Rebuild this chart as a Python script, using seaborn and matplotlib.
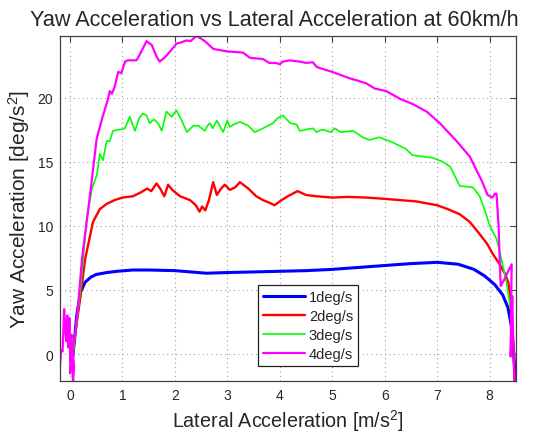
import numpy as np
import pandas as pd
import matplotlib
matplotlib.use("Agg")
import matplotlib.pyplot as plt
import seaborn as sns

# ---------------- data ----------------
labels = ["1deg/s", "2deg/s", "3deg/s", "4deg/s"]
colors = ["#0000ff", "#ff0000", "#00ff00", "#ff00ff"]

x1 = [0.03, 0.08, 0.13, 0.2, 0.29, 0.4, 0.5, 0.7, 0.9, 1.2, 1.5, 2.0, 2.3, 2.6,
      3.0, 3.5, 4.0, 4.5, 5.0, 5.5, 6.0, 6.5, 7.0, 7.4, 7.7, 7.9, 8.1, 8.25,
      8.35, 8.42, 8.46, 8.49]
y1 = [-1.0, 0.8, 3.0, 4.8, 5.6, 6.0, 6.2, 6.35, 6.45, 6.55, 6.55, 6.5, 6.4, 6.3,
      6.35, 6.4, 6.45, 6.5, 6.6, 6.75, 6.9, 7.05, 7.15, 7.0, 6.6, 6.1, 5.4, 4.6,
      3.6, 2.0, 0.0, -2.1]

x2 = [0.03, 0.1, 0.2, 0.29, 0.44, 0.57, 0.7, 0.85, 1.0, 1.2, 1.35, 1.47, 1.55,
      1.65, 1.72, 1.8, 1.87, 1.95, 2.1, 2.29, 2.4, 2.47, 2.52, 2.58, 2.65, 2.73,
      2.8, 2.88, 2.95, 3.05, 3.15, 3.24, 3.4, 3.55, 3.68, 3.8, 3.9, 4.0, 4.15,
      4.34, 4.5, 4.7, 5.0, 5.3, 5.65, 6.0, 6.29, 6.6, 7.0, 7.2, 7.43, 7.62, 7.8,
      7.95, 8.06, 8.19, 8.3, 8.36, 8.42, 8.45, 8.48]
y2 = [-1.0, 1.5, 4.5, 7.4, 10.3, 11.3, 11.7, 12.0, 12.2, 12.3, 12.6, 12.9, 12.7,
      13.3, 12.9, 12.3, 13.2, 12.8, 12.3, 12.0, 11.6, 11.1, 11.5, 11.2, 12.0, 13.4,
      12.4, 12.9, 13.2, 12.8, 13.0, 13.4, 12.9, 12.3, 12.0, 11.8, 11.6, 11.9, 12.3,
      12.7, 12.4, 12.3, 12.2, 12.25, 12.2, 12.1, 12.0, 11.9, 11.6, 11.3, 10.9, 10.3,
      9.4, 8.6, 7.8, 7.0, 6.2, 5.5, 3.0, 0.5, -2.1]

x3 = [0.03, 0.1, 0.2, 0.32, 0.42, 0.51, 0.57, 0.63, 0.7, 0.76, 0.82, 0.95, 1.05,
      1.14, 1.24, 1.32, 1.39, 1.46, 1.52, 1.6, 1.68, 1.75, 1.84, 1.94, 2.03, 2.12,
      2.23, 2.35, 2.45, 2.57, 2.62, 2.67, 2.72, 2.8, 2.92, 3.0, 3.05, 3.12, 3.24,
      3.4, 3.52, 3.68, 3.87, 3.96, 4.06, 4.2, 4.32, 4.38, 4.5, 4.63, 4.7, 4.8, 4.9,
      4.97, 5.05, 5.16, 5.4, 5.58, 5.71, 5.9, 6.15, 6.4, 6.53, 6.72, 6.91, 7.1,
      7.25, 7.43, 7.68, 7.81, 7.9, 8.0, 8.13, 8.19, 8.32, 8.42, 8.45]
y3 = [-1.0, 1.5, 5.0, 10.5, 12.9, 13.9, 15.6, 15.1, 16.6, 16.6, 17.4, 17.5, 17.6,
      18.5, 17.4, 18.4, 18.75, 18.6, 18.0, 18.3, 18.0, 17.4, 18.9, 18.5, 19.0, 18.3,
      17.3, 17.8, 17.8, 17.4, 17.8, 18.0, 17.6, 18.2, 17.3, 18.2, 17.7, 17.9, 18.1,
      17.8, 17.3, 17.6, 18.0, 18.4, 18.6, 18.0, 17.9, 17.4, 17.5, 17.6, 17.3, 17.5,
      17.4, 17.3, 17.6, 17.3, 17.4, 16.9, 16.7, 16.9, 16.5, 16.0, 15.5, 15.4, 15.3,
      15.0, 14.6, 13.1, 13.0, 12.3, 11.3, 10.0, 9.0, 8.0, 5.6, 3.0, 1.0]

x4 = [-0.2, -0.17, -0.14, -0.11, -0.09, -0.07, -0.05, -0.03, -0.01, 0.01, 0.03,
      0.0, 0.04, 0.06, 0.08, 0.05, 0.1, 0.15, 0.23, 0.38, 0.51, 0.63, 0.72, 0.76,
      0.8, 0.85, 0.92, 0.98, 1.05, 1.1, 1.27, 1.35, 1.46, 1.56, 1.65, 1.71, 1.8,
      1.87, 1.95, 2.03, 2.12, 2.22, 2.3, 2.41, 2.5, 2.6, 2.73, 2.85, 2.99, 3.15, 3.3,
      3.43, 3.55, 3.68, 3.8, 3.92, 4.0, 4.06, 4.19, 4.38, 4.5, 4.63, 4.7, 4.76, 5.0,
      5.33, 5.5, 5.65, 5.81, 6.03, 6.29, 6.53, 6.8, 7.05, 7.37, 7.62, 7.85, 7.96,
      8.05, 8.1, 8.13, 8.17, 8.19, 8.21, 8.29, 8.37, 8.42, 8.41, 8.4, 8.43, 8.45,
      8.47]
y4 = [-1.6, 0.3, 0.2, 3.5, 2.0, 1.0, 3.0, 0.5, 2.8, -0.5, 1.5, -1.5, -0.5, -2.1,
      -1.0, 0.5, 1.5, 3.5, 7.4, 12.3, 16.8, 18.6, 19.8, 20.5, 20.3, 20.8, 22.0, 21.9,
      22.8, 22.9, 22.9, 23.5, 24.4, 24.1, 23.2, 22.8, 23.1, 23.4, 23.8, 24.2, 24.3,
      24.45, 24.4, 24.8, 24.6, 24.3, 23.8, 23.7, 23.6, 23.55, 23.5, 23.1, 23.05,
      23.0, 22.7, 22.7, 22.6, 22.8, 22.9, 22.8, 22.7, 22.75, 22.4, 22.3, 22.0, 21.5,
      21.3, 21.1, 20.7, 20.5, 19.9, 19.5, 18.9, 18.0, 16.6, 15.4, 13.5, 12.4, 12.2,
      12.5, 12.5, 10.0, 7.5, 5.3, 5.9, 6.6, 7.0, 4.0, -0.2, 4.5, 1.0, -2.1]

xs = [x1, x2, x3, x4]
ys = [y1, y2, y3, y4]
widths = [2.2, 1.7, 1.2, 1.6]

x_ticks = [0, 1, 2, 3, 4, 5, 6, 7, 8]
y_ticks = [0, 5, 10, 15, 20]

# ---------------- style ----------------
sns.set_theme(style="white")
plt.rcParams["font.family"] = ["Liberation Sans", "DejaVu Sans"]
plt.rcParams["mathtext.default"] = "regular"
plt.rcParams["xtick.direction"] = "in"
plt.rcParams["ytick.direction"] = "in"

fig = plt.figure(figsize=(5.5, 4.35), dpi=100)
ax = fig.add_axes([0.109, 0.122, 0.829, 0.793])

for lab, col, lw, xv, yv in zip(labels, colors, widths, xs, ys):
    df = pd.DataFrame({"x": xv, "y": yv})
    sns.lineplot(data=df, x="x", y="y", sort=False, estimator=None, color=col,
                 linewidth=lw, label=lab, ax=ax)

ax.set_xlim(-0.19, 8.5)
ax.set_ylim(-2.1, 24.8)
ax.set_xticks(x_ticks)
ax.set_yticks(y_ticks)
ax.tick_params(axis="both", which="both", top=True, right=True, length=4,
               width=0.8, color="#404040", labelsize=10, pad=5)
ax.grid(True, linestyle=(0, (1, 3)), color="#a0a0a0", linewidth=0.8)
for s in ax.spines.values():
    s.set_color("#404040")
    s.set_linewidth(0.9)

ax.set_title("Yaw Acceleration vs Lateral Acceleration at 60km/h", fontsize=15.6,
             pad=8, x=0.471)
ax.set_xlabel(r"Lateral Acceleration [m/s$^2$]", fontsize=14.2, labelpad=4)
ax.set_ylabel(r"Yaw Acceleration [deg/s$^2$]", fontsize=15, labelpad=4)

leg = ax.legend(loc="lower left", bbox_to_anchor=(0.434, 0.043), fontsize=10.5,
                frameon=True, fancybox=False, framealpha=1, edgecolor="#202020",
                handlelength=2.9, borderpad=0.35, labelspacing=0.35,
                handletextpad=0.25, borderaxespad=0)
leg.get_frame().set_linewidth(0.9)

fig.savefig("out.png", dpi=100)
